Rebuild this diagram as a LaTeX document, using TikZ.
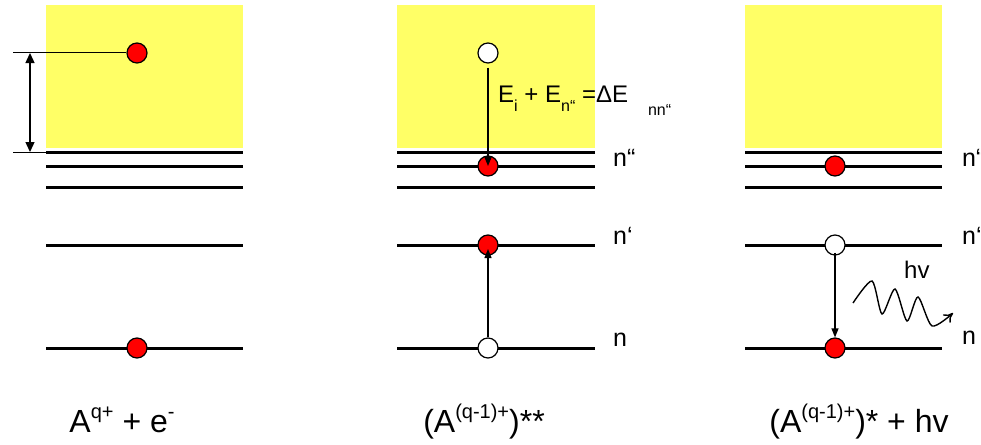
\documentclass[tikz,border=0pt]{standalone}
\usepackage{fontspec}
\setmainfont{Liberation Sans}
\usetikzlibrary{arrows.meta}
\definecolor{bandyellow}{RGB}{255,255,102}
\definecolor{elred}{RGB}{255,0,0}
\newcommand{\myup}[1]{\raisebox{0.42em}{\fontsize{20}{20}\selectfont #1}}
\newcommand{\mydn}[1]{\raisebox{-0.4em}{\fontsize{16}{16}\selectfont #1}}
\tikzset{
  band/.style={fill=bandyellow, draw=none},
  level/.style={line width=3pt},
  elec/.style={circle, draw=black, line width=1.2pt, fill=elred, minimum size=20pt, inner sep=0pt},
  hole/.style={circle, draw=black, line width=1.2pt, fill=white, minimum size=20pt, inner sep=0pt},
  trans/.style={line width=1.2pt, -{Triangle[length=9pt,width=7pt]}},
  lvllabel/.style={font=\fontsize{25}{25}\selectfont, anchor=west, inner sep=0pt},
  biglabel/.style={font=\fontsize{32}{32}\selectfont, anchor=base, inner sep=0pt},
}
\begin{document}
\begin{tikzpicture}[x=1pt,y=-1pt]
\useasboundingbox (0,0) rectangle (981,444);
% yellow continua
\fill[band] (46,5) rectangle (243,148);
\fill[band] (397,5) rectangle (595,148);
\fill[band] (745,5) rectangle (942,148);
% levels
\foreach \xa/\xb in {46/243, 397/595, 745/942}{
  \foreach \yy in {152,166,187,245,348}{
    \draw[level] (\xa,\yy) -- (\xb,\yy);
  }
}
% ---------- panel 1
\node[elec] (p1c) at (137,53) {};
\node[elec] (p1n) at (137,348) {};
\coordinate (t1a) at (13,53);
\coordinate (t2a) at (13,152);
\coordinate (t2b) at (46,152);
\coordinate (a1) at (30,53);
\coordinate (a2) at (30,152);
\draw[line width=1pt] (t1a) -- (p1c.west);
\draw[line width=1pt] (t2a) -- (t2b);
\draw[line width=1.3pt, {Triangle[length=10pt,width=9pt]}-{Triangle[length=10pt,width=9pt]}] (a1) -- (a2);
\node[biglabel] (lab1) at (122,432) {A\myup{q+} + e\myup{-}};
% ---------- panel 2
\node[hole] (p2c) at (488,53) {};
\node[elec] (p2npp) at (488,166) {};
\node[elec] (p2np) at (488,245) {};
\node[hole] (p2n) at (488,348) {};
\draw[trans] (p2c.south) ++(0,4) -- (p2npp.center);
\draw[trans] (p2n.north) -- ([yshift=-4pt]p2np.center);
\node[font=\fontsize{24}{24}\selectfont, anchor=base west, inner sep=0pt] (eq) at (498,102)
  {E\mydn{i} + E\mydn{n“} =ΔE\hspace{20pt}\raisebox{-0.55em}{\fontsize{16}{16}\selectfont nn“}};
\node[lvllabel] (l2a) at (613,158) {n“};
\node[lvllabel] (l2b) at (613,236) {n‘};
\node[lvllabel] (l2c) at (613,340) {n};
\node[biglabel] (lab2) at (484,432) {(A\myup{(q-1)+})**};
% ---------- panel 3
\node[elec] (p3npp) at (835,166) {};
\node[hole] (p3np) at (835,245) {};
\node[elec] (p3n) at (835,348) {};
\draw[trans] ([yshift=3pt]p3np.south) -- (p3n.north);
\node[lvllabel] (l3a) at (962,158) {n“};
\node[lvllabel] (l3b) at (962,236) {n‘};
\node[lvllabel] (l3c) at (962,338) {n};
\node[font=\fontsize{24}{24}\selectfont, anchor=base west, inner sep=0pt] (hv) at (904,278) {hv};
\draw[line width=1.4pt, -{To[length=9pt,width=11pt]}]
  plot[smooth, tension=0.45] coordinates {(853,303) (872,281) (882,314) (895,289) (907,321) (918,297) (932,326) (953,313)};
\node[biglabel] (lab3) at (859,432) {(A\myup{(q-1)+})* + hv};
\end{tikzpicture}
\end{document}
